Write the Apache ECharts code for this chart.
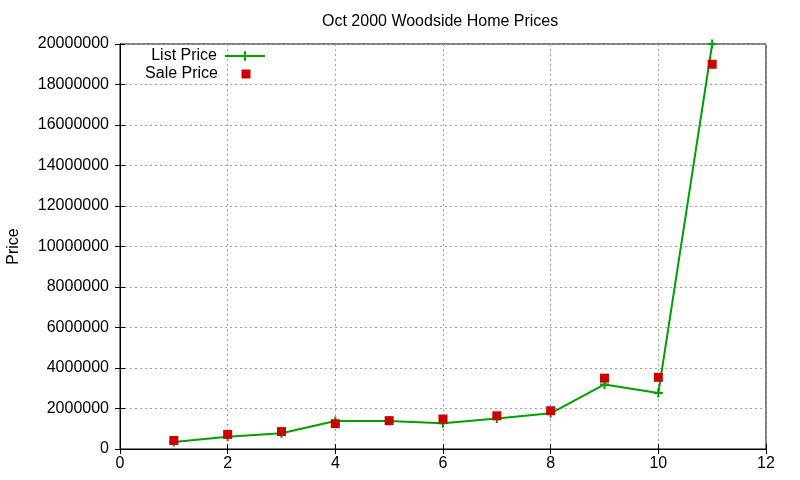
<!DOCTYPE html>
<html>
<head>
<meta charset="utf-8">
<script src="https://cdn.jsdelivr.net/npm/echarts@6/dist/echarts.min.js"></script>
<style>
html, body { margin: 0; padding: 0; background: #fff; }
#main { width: 800px; height: 480px; }
</style>
</head>
<body>
<div id="main"></div>
<script>
var houseIndex = [1, 2, 3, 4, 5, 6, 7, 8, 9, 10, 11];
var listPrice = [350000, 600000, 780000, 1380000, 1380000, 1270000, 1510000, 1760000, 3190000, 2760000, 20000000];
var salePrice = [420000, 720000, 860000, 1250000, 1400000, 1480000, 1640000, 1890000, 3500000, 3540000, 19000000];

var dom = document.getElementById("main");
var myChart = echarts.init(dom);
var font = "Liberation Sans, Arial, sans-serif";
var plus = 'path://M-1,-4.5h2v3.5h3.5v2h-3.5v3.5h-2v-3.5h-3.5v-2h3.5z';
// square in the middle of a 40x10 legend box
var legendSquare = 'path://M0,5L0,5M15.5,0h9v9h-9zM40,5L40,5';

function pairs(xs, ys) {
    var out = [];
    for (var i = 0; i < xs.length; i++) {
        out.push([xs[i], ys[i]]);
    }
    return out;
}

var option = {
    animation: false,
    textStyle: { fontFamily: font },
    title: {
        text: 'Oct 2000 Woodside Home Prices',
        left: 317,
        top: 9,
        textStyle: { fontFamily: font, fontSize: 16, fontWeight: 'normal', color: '#000' }
    },
    legend: [{
        data: ['List Price'],
        orient: 'vertical',
        align: 'right',
        right: 534,
        top: 48,
        padding: 0,
        itemWidth: 40,
        itemHeight: 12,
        textStyle: { fontFamily: font, fontSize: 16, color: '#000', padding: [0, 3, 0, 0] }
    }, {
        data: [{ name: 'Sale Price', icon: legendSquare }],
        orient: 'vertical',
        align: 'right',
        right: 534,
        top: 66,
        padding: 0,
        itemWidth: 40,
        itemHeight: 10,
        textStyle: { fontFamily: font, fontSize: 16, color: '#000', padding: [0, 3, 0, 0] }
    }],
    grid: {
        left: 120, right: 34, top: 44, bottom: 31,
        outerBoundsMode: 'none',
        show: true, borderColor: '#000', borderWidth: 1
    },
    xAxis: [{
        type: 'value',
        min: 0,
        max: 12,
        interval: 2,
        axisLine: { onZero: false, lineStyle: { color: '#000', width: 1 } },
        axisTick: { inside: true, length: 5, lineStyle: { color: '#000' } },
        axisLabel: { color: '#000', fontSize: 16, fontFamily: font, margin: 7 },
        splitLine: { show: true, lineStyle: { color: '#a0a0a0', type: [2, 3] } }
    }, {
        type: 'value',
        position: 'top',
        min: 0,
        max: 12,
        interval: 2,
        axisLine: { show: true, lineStyle: { color: '#000', width: 1 } },
        axisTick: { show: true, inside: true, length: 5, lineStyle: { color: '#000' } },
        axisLabel: { show: false },
        splitLine: { show: false }
    }],
    yAxis: [{
        type: 'value',
        min: 0,
        max: 20000000,
        interval: 2000000,
        name: 'Price',
        nameLocation: 'middle',
        nameRotate: 90,
        nameGap: 98,
        nameTextStyle: { color: '#000', fontSize: 16, fontFamily: font },
        axisLine: { show: true, onZero: false, lineStyle: { color: '#000', width: 1 } },
        axisTick: { show: true, inside: true, length: 5, lineStyle: { color: '#000' } },
        axisLabel: {
            color: '#000', fontSize: 16, fontFamily: font, margin: 11,
            formatter: function (v) { return String(v); }
        },
        splitLine: { show: true, lineStyle: { color: '#a0a0a0', type: [2, 3] } }
    }, {
        type: 'value',
        position: 'right',
        min: 0,
        max: 20000000,
        interval: 2000000,
        axisLine: { show: true, lineStyle: { color: '#000', width: 1 } },
        axisTick: { show: true, inside: true, length: 5, lineStyle: { color: '#000' } },
        axisLabel: { show: false },
        splitLine: { show: false }
    }],
    series: [{
        name: 'List Price',
        type: 'line',
        data: pairs(houseIndex, listPrice),
        symbol: plus,
        symbolSize: 9,
        showAllSymbol: true,
        lineStyle: { color: '#00a000', width: 2 },
        itemStyle: { color: '#00a000' },
        z: 2
    }, {
        name: 'Sale Price',
        type: 'scatter',
        data: pairs(houseIndex, salePrice),
        symbol: 'rect',
        symbolSize: 9,
        itemStyle: { color: '#cc0000', opacity: 1 },
        z: 3
    }]
};

if (option && typeof option == "object") {
    myChart.setOption(option, true);
}
</script>
</body>
</html>
